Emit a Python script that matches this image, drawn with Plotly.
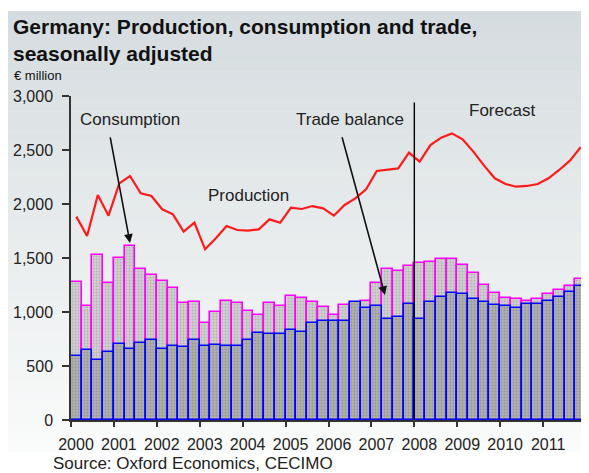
import plotly.graph_objects as go

# ---------------- data ----------------
years = list(range(2000, 2012))
quarters = [f"{y} Q{q}" for y in years for q in range(1, 5)]

consumption = [1280, 1055, 1528, 1265, 1503, 1611, 1395, 1343,
               1290, 1225, 1080, 1093, 895, 1003, 1105, 1080,
               1012, 972, 1080, 1055, 1148, 1133, 1090, 1050,
               972, 1065, 1070, 1105, 1265, 1395, 1383, 1426,
               1450, 1460, 1488, 1488, 1435, 1358, 1253, 1173,
               1133, 1117, 1105, 1117, 1164, 1204, 1241, 1303]

trade_balance = [593, 648, 556, 633, 701, 660, 713, 741,
                 660, 685, 673, 741, 685, 698, 685, 685,
                 741, 806, 793, 793, 833, 818, 895, 920,
                 920, 920, 1096, 1040, 1055, 935, 951, 1071,
                 935, 1096, 1142, 1173, 1164, 1120, 1093, 1065,
                 1055, 1040, 1071, 1071, 1105, 1142, 1188, 1241]

production = [1883, 1704, 2083, 1892, 2191, 2259, 2099, 2074,
              1951, 1904, 1744, 1827, 1580, 1682, 1796, 1759,
              1753, 1765, 1858, 1827, 1966, 1954, 1981, 1960,
              1892, 1991, 2052, 2136, 2306, 2321, 2330, 2475,
              2392, 2546, 2614, 2654, 2599, 2485, 2355, 2238,
              2185, 2160, 2167, 2185, 2238, 2315, 2401, 2525]

tick_years = list(range(2000, 2013))
tick_labels = [str(y) for y in range(2000, 2012)] + [""]
y_ticks = [0, 500, 1000, 1500, 2000, 2500, 3000]
y_tick_labels = ["0", "500", "1,000", "1,500", "2,000", "2,500", "3,000"]
forecast_start = 2008

# x position of each quarter (centre of the quarter, in fractional years)
xq = [y + (q + 0.5) / 4 for y in years for q in range(4)]

# the page body has an 8px margin, so lay out in page pixels minus OFF
OFF = 8
W, H = 589 - OFF, 473 - OFF
L, T = 71 - OFF, 96 - OFF
R = 589 - 586
B = 473 - 420
plot_h = H - T - B
plot_w = W - L - R

FONT = "Liberation Sans, Arial, sans-serif"

def px2paper_y(py):  # py in reference page pixels
    return (H - B - (py - OFF)) / plot_h

def px2paper_x(px):
    return (px - OFF - L) / plot_w

fig = go.Figure()

fig.add_trace(go.Bar(
    x=xq, y=consumption, width=0.25, name="Consumption",
    marker=dict(color="#cccccc",
                line=dict(color="#ff00ff", width=1.6),
                pattern=dict(shape=".", bgcolor="#d0d0d0", fgcolor="#959595",
                             size=3, solidity=0.33)),
    hovertext=quarters,
))
fig.add_trace(go.Bar(
    x=xq, y=trade_balance, width=0.25, name="Trade balance",
    marker=dict(color="#a8a8a8",
                line=dict(color="#0000ff", width=1.6),
                pattern=dict(shape=".", bgcolor="#b0b0b0", fgcolor="#7c7c7c",
                             size=3, solidity=0.33)),
    hovertext=quarters,
))
fig.add_trace(go.Scatter(
    x=xq, y=production, mode="lines", name="Production",
    line=dict(color="#ff1a1a", width=2.2),
))

# background gradient panel
shapes = []
top_px, bot_px = 11, 452
n = 44
c0 = (213, 220, 223)
c1 = (250, 251, 251)
for i in range(n):
    f = i / (n - 1)
    col = tuple(round(c0[k] + (c1[k] - c0[k]) * f) for k in range(3))
    y0p = top_px + (bot_px - top_px) * i / n
    y1p = top_px + (bot_px - top_px) * (i + 1) / n + 0.6
    shapes.append(dict(type="rect", xref="paper", yref="paper",
                       x0=px2paper_x(0) - 0.02, x1=px2paper_x(589) + 0.02,
                       y0=px2paper_y(y1p), y1=px2paper_y(y0p),
                       fillcolor="rgb(%d,%d,%d)" % col, line=dict(width=0),
                       layer="below"))
# forecast divider
shapes.append(dict(type="line", xref="x", yref="y",
                   x0=forecast_start, x1=forecast_start, y0=0, y1=2940,
                   line=dict(color="#000000", width=1.4), layer="above"))

ann_font = dict(family=FONT, size=17, color="#222222")
annotations = [
    dict(x=2001.375, y=1640, ax=2000.907, ay=2630, xref="x", yref="y",
         axref="x", ayref="y", text="", showarrow=True, arrowhead=2,
         arrowsize=1.1, arrowwidth=1.6, arrowcolor="#111111"),
    dict(x=2007.316, y=1157, ax=2006.307, ay=2632, xref="x", yref="y",
         axref="x", ayref="y", text="", showarrow=True, arrowhead=2,
         arrowsize=1.1, arrowwidth=1.6, arrowcolor="#111111"),
    dict(x=2001.386, y=2782, xref="x", yref="y", text="Consumption",
         showarrow=False, font=ann_font),
    dict(x=2006.49, y=2787, xref="x", yref="y", text="Trade balance",
         showarrow=False, font=ann_font),
    dict(x=2004.136, y=2079, xref="x", yref="y", text="Production",
         showarrow=False, font=ann_font),
    dict(x=2010.04, y=2866, xref="x", yref="y", text="Forecast",
         showarrow=False, font=ann_font),
    dict(x=px2paper_x(12), y=px2paper_y(66), xref="paper", yref="paper",
         text="€ million", showarrow=False, xanchor="left", yanchor="top",
         font=dict(family=FONT, size=13, color="#111111")),
    dict(x=px2paper_x(51), y=px2paper_y(452.5), xref="paper", yref="paper",
         text="Source: Oxford Economics, CECIMO", showarrow=False,
         xanchor="left", yanchor="top", font=ann_font),
    dict(x=px2paper_x(11), y=px2paper_y(13), xref="paper", yref="paper",
         text="<b>Germany: Production, consumption and trade,<br>seasonally adjusted</b>",
         showarrow=False, xanchor="left", yanchor="top", align="left",
         font=dict(family=FONT, size=21, color="#111111")),
]

fig.update_layout(
    width=W, height=H,
    margin=dict(l=L, r=R, t=T, b=B, pad=0),
    paper_bgcolor="#ffffff", plot_bgcolor="rgba(0,0,0,0)",
    barmode="overlay", bargap=0, showlegend=False,
    font=dict(family=FONT, size=16, color="#222222"),
    shapes=shapes,
    annotations=annotations,
    xaxis=dict(range=[2000, 2012], tickvals=tick_years, ticktext=tick_labels,
               ticks="outside", ticklen=5, tickwidth=1.5, tickcolor="#333333",
               showline=True, linecolor="#333333", linewidth=1.5,
               showgrid=False, zeroline=False, ticklabelshift=5,
               ticklabelstandoff=4),
    yaxis=dict(range=[0, 3000], tickvals=y_ticks, ticktext=y_tick_labels,
               ticks="outside", ticklen=7, tickwidth=1.5, tickcolor="#333333",
               showline=True, linecolor="#333333", linewidth=1.5,
               showgrid=False, zeroline=False, ticklabelstandoff=6),
)

fig.write_html("out.html")
